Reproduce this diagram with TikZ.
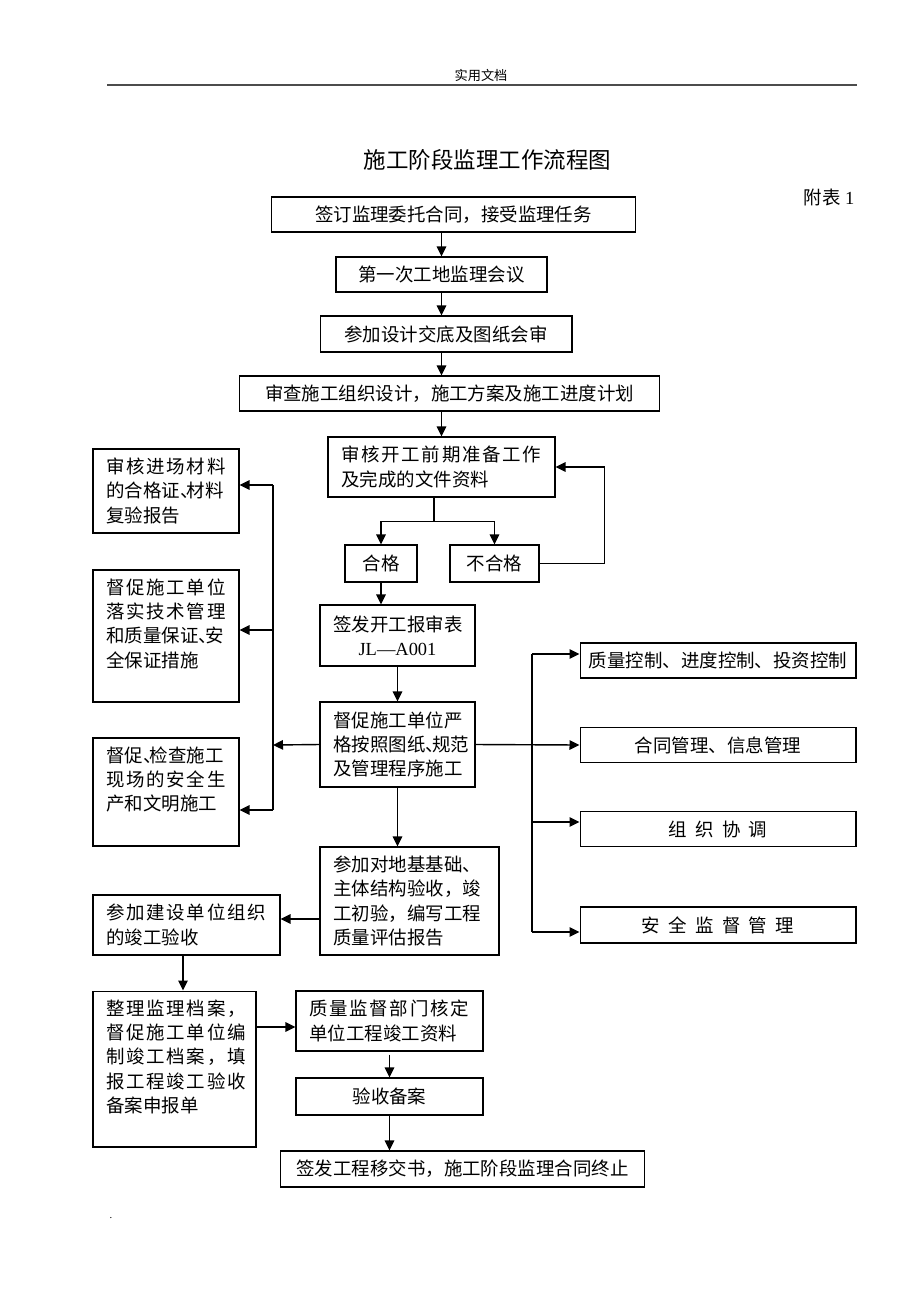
\documentclass[tikz,border=0pt]{standalone}
\usepackage{fontspec}
\setmainfont{Liberation Serif}
\newfontfamily\cjk{Noto Sans CJK SC}
\newfontfamily\cjkw[LetterSpace=9]{Noto Sans CJK SC}
\usetikzlibrary{arrows.meta,positioning}
\newcommand\dun{\makebox[0.35em][l]{、}}
\newcommand\chgap{\hspace{0.45em}}
\newcommand\topfill[2]{\parbox[c][#1][t]{\linewidth}{#2}}

\begin{document}
\begin{tikzpicture}[x=0.02cm,y=-0.02cm,
    font=\cjk\fontsize{10.5}{13.9}\selectfont,
    box/.style={draw,line width=0.6pt,inner sep=0pt,minimum height=0.7cm},
    tbox/.style={draw,line width=0.6pt,inner xsep=0.27cm,inner ysep=0.17cm,align=left},
    arr/.style={-{Triangle[length=2mm,width=1.9mm]},line width=0.8pt},
    bus/.style={line width=0.8pt}]
    \useasboundingbox (0,0) rectangle (920,1302);

    \node[font=\cjk\fontsize{7.5}{9}\selectfont] (hdr) at (481,75) {实用文档};
    \draw[line width=1.2pt,black!70] (107,85) -- (857,85);
    \node[font=\cjk\fontsize{12.8}{15}\selectfont] (title) at (487.5,160) {施工阶段监理工作流程图};
    \node (annex) at (829,197) {附表{\rmfamily\ 1}};

    \node[box,minimum width=7.3cm] (sign) at (453.5,214.5) {签订监理委托合同，接受监理任务};
    \node[box,minimum width=4.22cm] (meet) at (441.5,274.5) {第一次工地监理会议};
    \node[box,minimum width=5.04cm,minimum height=0.72cm] (design) at (446,334) {参加设计交底及图纸会审};
    \node[box,minimum width=8.42cm] (plan) at (449.5,393.5) {审查施工组织设计，施工方案及施工进度计划};
    \node[tbox,text width=4.0cm,minimum height=1.2cm] (prep) at (441.5,467) {{\cjkw 审核开工前期准备工作}\\及完成的文件资料};
    \node[box,minimum width=1.44cm,minimum height=0.74cm] (pass) at (381,563.5) {合格};
    \node[box,minimum width=1.78cm,minimum height=0.74cm] (fail) at (494.5,563.5) {不合格};
    \node[tbox,text width=2.56cm,minimum height=1.22cm,align=center] (start) at (397.5,635.5) {签发开工报审表\\{\rmfamily JL—A001}};
    \node[tbox,text width=2.56cm,minimum height=1.7cm] (exec) at (397.5,744.5) {督促施工单位严\\格按照图纸\dun 规范\\及管理程序施工};
    \node[tbox,text width=3.04cm,minimum height=2.16cm] (check) at (409.5,901) {参加对地基基础、\\主体结构验收，竣\\工初验，编写工程\\质量评估报告};

    \node[tbox,text width=2.38cm,minimum height=1.68cm] (mat) at (166,491) {{\cjkw 审核进场材料}\\的合格证\dun 材料\\复验报告};
    \node[tbox,text width=2.38cm] (tech) at (166,636) {\topfill{2.3cm}{{\cjkw 督促施工单位}\\{\cjkw 落实技术管理}\\和质量保证\dun 安\\全保证措施}};
    \node[tbox,text width=2.38cm] (site) at (166,792) {\topfill{1.82cm}{督促\dun 检查施工\\{\cjkw 现场的安全生}\\产和文明施工}};
    \node[tbox,text width=3.2cm,minimum height=1.2cm] (accept) at (186.5,925) {{\cjkw 参加建设单位组织}\\的竣工验收};
    \node[tbox,text width=2.72cm] (archive) at (174.5,1069) {\topfill{2.78cm}{{\cjkw 整理监理档案，}\\{\cjkw 督促施工单位编}\\{\cjkw 制竣工档案，填}\\{\cjkw 报工程竣工验收}\\备案申报单}};
    \node[tbox,text width=3.2cm,minimum height=1.2cm] (qc) at (389.5,1021) {{\cjkw 质量监督部门核定}\\单位工程竣工资料};
    \node[box,minimum width=3.74cm,minimum height=0.74cm] (rec) at (389.5,1096.5) {验收备案};
    \node[box,minimum width=7.3cm,minimum height=0.72cm] (handover) at (462.5,1169) {签发工程移交书，施工阶段监理合同终止};

    \node[box,minimum width=5.52cm] (ctrl) at (718,660.5) {质量控制、进度控制、投资控制};
    \node[box,minimum width=5.52cm] (info) at (718,745) {合同管理、信息管理};
    \node[box,minimum width=5.52cm] (coord) at (718,829) {组\chgap 织\chgap 协\chgap 调};
    \node[box,minimum width=5.52cm,minimum height=0.72cm] (safe) at (718,925) {安\chgap 全\chgap 监\chgap 督\chgap 管\chgap 理};

    \node[font=\rmfamily\fontsize{6}{7}\selectfont] (dot) at (111,1218) {.};

    \coordinate (lbus) at (273,745);
    \coordinate (rbus) at (532,745);

    \draw[arr] (meet.north |- sign.south) -- (meet.north);
    \draw[arr] (meet.south) -- (meet.south |- design.north);
    \draw[arr] (prep.north |- design.south) -- (prep.north |- plan.north);
    \draw[arr] (prep.north |- plan.south) -- (prep.north);
    \draw[bus] ([xshift=-0.15cm]prep.south) -- ++(0,24) coordinate (fork);
    \draw[arr] (fork) -| (pass.north);
    \draw[arr] (fork) -| (fail.north);
    \draw[arr] (fail.east) -- ++(65,0) |- (prep.east);
    \draw[arr] (pass.south) -- (pass.south |- start.north);
    \draw[arr] (start.south) -- (exec.north);

    \draw[arr] (exec.west) -- (lbus);
    \draw[bus] ([yshift=0.12cm]mat.east -| lbus) -- ([yshift=-0.36cm]site.east -| lbus);
    \draw[arr] ([yshift=0.12cm]mat.east -| lbus) -- ([yshift=0.12cm]mat.east);
    \draw[arr] ([yshift=0.12cm]tech.east -| lbus) -- ([yshift=0.12cm]tech.east);
    \draw[arr] ([yshift=-0.36cm]site.east -| lbus) -- ([yshift=-0.36cm]site.east);

    \draw[arr] (exec.east) -- (info.west);
    \draw[bus] ([yshift=0.13cm]ctrl.west -| rbus) -- ([yshift=-0.14cm]safe.west -| rbus);
    \draw[arr] ([yshift=0.13cm]ctrl.west -| rbus) -- ([yshift=0.13cm]ctrl.west);
    \draw[arr] ([yshift=0.14cm]coord.west -| rbus) -- ([yshift=0.14cm]coord.west);
    \draw[arr] ([yshift=-0.14cm]safe.west -| rbus) -- ([yshift=-0.14cm]safe.west);

    \draw[arr] (exec.south) -- (exec.south |- check.north);
    \draw[arr] ([yshift=-0.36cm]check.west) -- ([yshift=-0.36cm]check.west -| accept.east);
    \draw[arr] ([xshift=-0.07cm]accept.south) -- ([xshift=-0.07cm]accept.south |- archive.north);
    \draw[arr] ([yshift=-0.12cm]qc.west -| archive.east) -- ([yshift=-0.12cm]qc.west);
    \draw[arr] ([yshift=-0.06cm]qc.south) -- (rec.north);
    \draw[arr] (rec.south) -- (rec.south |- handover.north);
\end{tikzpicture}
\end{document}
